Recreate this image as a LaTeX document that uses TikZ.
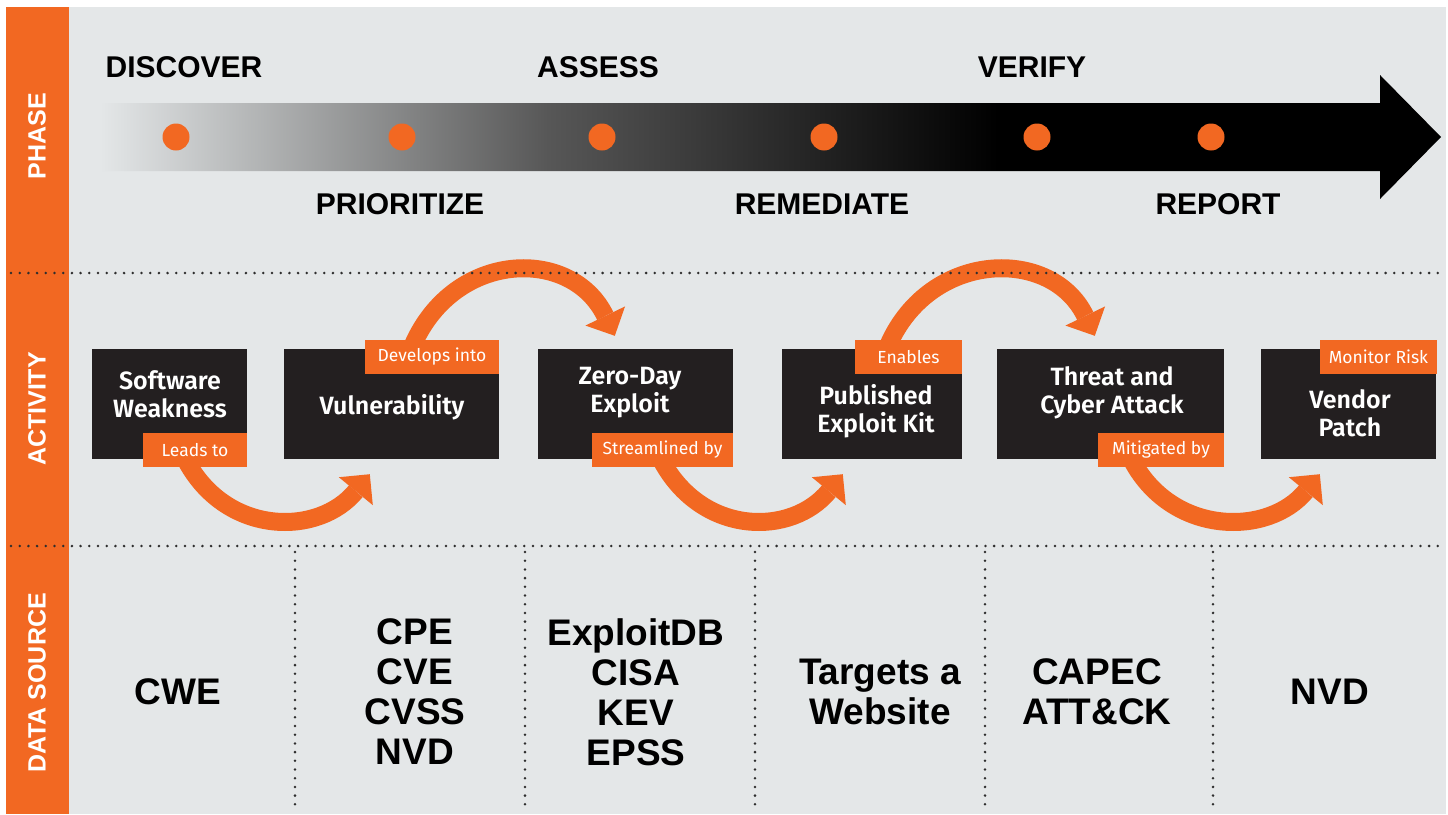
\documentclass[tikz,border=0pt]{standalone}
\usepackage{fontspec}
\setmainfont{Liberation Sans}
\newfontfamily\actfont{Fira Sans}[BoldFont={Fira Sans SemiBold}]
\usetikzlibrary{arrows.meta,calc,positioning}

\definecolor{rustorange}{HTML}{F26822}
\definecolor{panelgray}{HTML}{E4E7E8}
\definecolor{boxblack}{HTML}{231F20}
\definecolor{dotgray}{HTML}{2E2E2E}

% fades from the panel colour to black over the first two thirds
\pgfdeclarehorizontalshading{phasefade}{100bp}{color(0bp)=(panelgray); color(25bp)=(panelgray);
   color(41.75bp)=(black!66); color(58.5bp)=(black); color(100bp)=(black)}

\pgfdeclarelayer{panel}
\pgfdeclarelayer{flowlayer}
\pgfsetlayers{panel,flowlayer,main}

\begin{document}
\begin{tikzpicture}[
   x=1pt, y=-1pt,
   heading/.style={inner sep=0pt, text=black, font=\bfseries\fontsize{30}{30}\selectfont},
   side/.style={rotate=90, inner sep=0pt, text=white, font=\bfseries\fontsize{25}{25}\selectfont},
   phasedot/.style={circle, fill=rustorange, minimum size=27pt, inner sep=0pt},
   act/.style={fill=boxblack, minimum height=110pt, inner sep=0pt},
   acttext/.style={align=center, text=white, inner sep=0pt, font=\actfont\bfseries\fontsize{25}{28}\selectfont},
   tag/.style={fill=rustorange, text=white, minimum height=34pt, inner sep=0pt, font=\actfont\fontsize{17.5}{17.5}\selectfont},
   flow/.style={draw=rustorange, line width=18pt, -{Triangle[length=22pt,width=44pt,line width=0pt]}},
   source/.style={align=center, inner sep=0pt, text=black, font=\bfseries\fontsize{37}{40}\selectfont},
   dotline/.style={dotgray, line width=2.8pt, line cap=round, dash pattern=on 0pt off 8.7pt}]

\useasboundingbox (0,0) rectangle (1448,814);

\begin{pgfonlayer}{panel}
  \fill[rustorange] (6,7) rectangle (69,814);
  \fill[panelgray] (69,7) rectangle (1446,814);
\end{pgfonlayer}

% row labels
\node[side] (phase) at (37,136) {PHASE};
\node[side] (activity) at (37,409) {ACTIVITY};
\node[side] (datasrc) at (37,683) {DATA SOURCE};

% phase arrow
\shade[shading=phasefade] (100,103) -- (1380,103) -- (1380,75) -- (1441,137) -- (1380,199)
   -- (1380,171) -- (100,171) -- cycle;

\foreach \x/\n in {176/d1, 402/d2, 602/d3, 824/d4, 1037/d5, 1211/d6}
   \node[phasedot] (\n) at (\x,137) {};

\node[heading] (discover) at (184,67) {DISCOVER};
\node[heading] (assess) at (598,67) {ASSESS};
\node[heading] (verify) at (1032,67) {VERIFY};
\node[heading] (prioritize) at (400,204) {PRIORITIZE};
\node[heading] (remediate) at (822,204) {REMEDIATE};
\node[heading] (report) at (1218,204) {REPORT};

% activity boxes
\node[act, minimum width=155pt] (sw) at (169.5,404) {};
\node[act, minimum width=215pt] (vul) at (391.5,404) {};
\node[act, minimum width=195pt] (zde) at (635.5,404) {};
\node[act, minimum width=180pt] (pek) at (872,404) {};
\node[act, minimum width=227pt] (tca) at (1110.5,404) {};
\node[act, minimum width=175pt] (vp) at (1348.5,404) {};

\node[acttext] at ($(sw)+(0.5,-10)$) {Software\\Weakness};
\node[acttext] at ($(vul)+(0.5,3)$) {Vulnerability};
\node[acttext] at ($(zde)+(-5.5,-11)$) {Zero-Day\\Exploit};
\node[acttext] at ($(pek)+(4,7)$) {Published\\Exploit Kit};
\node[acttext] at ($(tca)+(1.5,-11)$) {Threat and\\Cyber Attack};
\node[acttext] at ($(vp)+(1.5,9)$) {Vendor\\Patch};

\node[tag, minimum width=104pt, anchor=south east] (lead) at ($(sw.south east)+(0,8)$) {Leads to};
\node[tag, minimum width=134pt, anchor=north east] (devel) at ($(vul.north east)+(0,-9)$) {Develops into};
\node[tag, minimum width=141pt, anchor=south east] (stream) at ($(zde.south east)+(0,8)$) {Streamlined by};
\node[tag, minimum width=107pt, anchor=north east] (enab) at ($(pek.north east)+(0,-9)$) {Enables};
\node[tag, minimum width=126pt, anchor=south east] (mitig) at ($(tca.south east)+(0,8)$) {Mitigated by};
\node[tag, minimum width=117pt, anchor=north east] (monit) at ($(vp.north east)+(1,-9)$) {Monitor Risk};

\begin{pgfonlayer}{flowlayer}
  \draw[flow] ($(lead.south)+(-8,-5)$) .. controls +(41,74) and +(-51,62) .. ($(vul.south west)+(86,15)$);
  \draw[flow] ($(stream.south)+(0,-5)$) .. controls +(41,74) and +(-51,62) .. ($(pek.south west)+(61,15)$);
  \draw[flow] ($(mitig.south)+(-28,-5)$) .. controls +(41,74) and +(-51,62) .. ($(vp.south west)+(59,15)$);
  \draw[flow] ($(devel.north)+(-19,5)$) .. controls +(42,-95) and +(-43,-89) .. ($(zde.north west)+(77,-13)$);
  \draw[flow] ($(enab.north)+(-20,5)$) .. controls +(42,-95) and +(-43,-89) .. ($(tca.north west)+(98,-13)$);
\end{pgfonlayer}

% separators
\draw[dotline] (11,273) -- (1446,273);
\draw[dotline] (11,546) -- (1446,546);
\foreach \x in {295,525,755,985,1213}
   \draw[dotline] (\x,552) -- (\x,808);

% data sources
\node[source] (cwe) at (178,692) {CWE};
\node[source] (cve) at (415,692) {CPE\\CVE\\CVSS\\NVD};
\node[source] (edb) at (636,692) {ExploitDB\\CISA\\KEV\\EPSS};
\node[source] (web) at (880,692) {Targets a\\Website};
\node[source] (capec) at (1097,692) {CAPEC\\ATT\&CK};
\node[source] (nvd) at (1330,692) {NVD};

\end{tikzpicture}
\end{document}
